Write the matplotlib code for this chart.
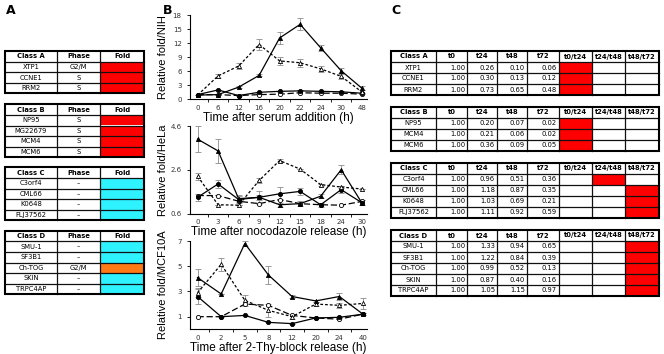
import matplotlib
matplotlib.use("Agg")
import matplotlib.pyplot as plt
from matplotlib.patches import Rectangle

# ---------------- data ----------------
# Panel A
a_classes = ["Class A", "Class B", "Class C", "Class D"]
a_genes = [["XTP1", "CCNE1", "RRM2"],
           ["NP95", "MG22679", "MCM4", "MCM6"],
           ["C3orf4", "CML66", "K0648", "FLJ37562"],
           ["SMU-1", "SF3B1", "Ch-TOG", "SKIN", "TRPC4AP"]]
a_phases = [["G2/M", "S", "S"],
            ["S", "S", "S", "S"],
            ["–", "–", "–", "–"],
            ["–", "–", "G2/M", "–", "–"]]
a_fold = [["up", "up", "up"],
          ["up", "up", "up", "up"],
          ["down", "down", "down", "down"],
          ["down", "down", "g2m", "down", "down"]]

# Panel B
nih_x = ["0", "6", "12", "16", "20", "22", "24", "30", "48"]
nih_tri_solid = [0.9, 1.0, 2.6, 5.1, 13.1, 16.0, 11.0, 6.1, 2.4]
nih_tri_solid_err = [0, 0, 0.2, 0.2, 1.2, 1.3, 0.6, 0.5, 0.4]
nih_tri_dash = [0.9, 5.0, 7.1, 11.7, 8.2, 7.8, 6.5, 4.9, 1.6]
nih_tri_dash_err = [0, 0.4, 0.6, 1.1, 0.8, 0.9, 0.6, 0.6, 0.3]
nih_circ_solid = [1.0, 2.0, 0.8, 1.5, 1.7, 1.8, 1.7, 1.6, 1.3]
nih_circ_solid_err = [0, 0, 0, 0.1, 0.1, 0.1, 0.1, 0.1, 0.1]
nih_circ_dash = [1.0, 1.0, 0.8, 1.0, 1.1, 1.4, 1.3, 1.3, 1.1]

hela_x = ["0", "3", "6", "9", "12", "15", "18", "24", "30"]
hela_tri_solid = [4.0, 3.46, 1.28, 1.34, 1.0, 1.05, 1.39, 2.6, 1.1]
hela_tri_solid_err = [0.6, 0.55, 0.15, 0.1, 0.1, 0.1, 0.1, 0.2, 0.1]
hela_tri_dash = [2.3, 1.0, 0.98, 2.11, 3.02, 2.63, 1.92, 1.81, 1.72]
hela_tri_dash_err = [0.15, 0, 0, 0.1, 0.05, 0, 0.05, 0.05, 0]
hela_circ_solid = [1.34, 1.95, 1.24, 1.34, 1.5, 1.61, 1.0, 1.69, 1.1]
hela_circ_solid_err = [0.15, 0.2, 0.15, 0.3, 0.3, 0.15, 0.1, 0.15, 0.1]
hela_circ_dash = [1.42, 1.42, 1.16, 1.05, 1.24, 1.05, 1.0, 0.98, 1.15]

mcf_x = ["0", "2", "5", "8", "12", "20", "24", "40"]
mcf_tri_solid = [4.1, 2.8, 6.8, 4.3, 2.6, 2.25, 2.6, 1.2]
mcf_tri_solid_err = [0.7, 0, 0.2, 0.7, 0.1, 0.1, 0.3, 0.1]
mcf_tri_dash = [2.9, 5.15, 2.3, 1.5, 1.0, 2.0, 1.9, 2.05]
mcf_tri_dash_err = [0.35, 0.5, 0.45, 0.5, 0.2, 0.15, 0.2, 0.45]
mcf_circ_solid = [2.6, 1.0, 1.1, 0.55, 0.45, 0.9, 0.95, 1.2]
mcf_circ_solid_err = [0.6, 0, 0, 0, 0, 0, 0, 0.1]
mcf_circ_dash = [1.0, 1.0, 2.0, 1.9, 1.1, 0.9, 0.8, 1.2]

# Panel C
c_header = ["t0", "t24", "t48", "t72", "t0/t24", "t24/t48", "t48/t72"]
c_classes = ["Class A", "Class B", "Class C", "Class D"]
c_genes = [["XTP1", "CCNE1", "RRM2"],
           ["NP95", "MCM4", "MCM6"],
           ["C3orf4", "CML66", "K0648", "FLJ37562"],
           ["SMU-1", "SF3B1", "Ch-TOG", "SKIN", "TRPC4AP"]]
c_values = [[[1.00, 0.26, 0.10, 0.06], [1.00, 0.30, 0.13, 0.12], [1.00, 0.73, 0.65, 0.48]],
            [[1.00, 0.20, 0.07, 0.02], [1.00, 0.21, 0.06, 0.02], [1.00, 0.36, 0.09, 0.05]],
            [[1.00, 0.96, 0.51, 0.36], [1.00, 1.18, 0.87, 0.35], [1.00, 1.03, 0.69, 0.21],
             [1.00, 1.11, 0.92, 0.59]],
            [[1.00, 1.33, 0.94, 0.65], [1.00, 1.22, 0.84, 0.39], [1.00, 0.99, 0.52, 0.13],
             [1.00, 0.87, 0.40, 0.16], [1.00, 1.05, 1.15, 0.97]]]
# index of the highlighted ratio column (0: t0/t24, 1: t24/t48, 2: t48/t72)
c_mark = [[0, 0, 0], [0, 0, 0], [1, 2, 2, 2], [2, 2, 2, 2, 2]]

# ---------------- figure ----------------
W, H = 664, 354
fig = plt.figure(figsize=(W / 100, H / 100), dpi=100)
plt.rcParams['font.family'] = ['DejaVu Sans']

ov = fig.add_axes([0, 0, 1, 1])
ov.set_xlim(0, W)
ov.set_ylim(H, 0)
ov.axis('off')

RED = '#ff0000'
CYAN = '#2ef2ff'
ORANGE = '#ff7a14'
fold_col = {"up": RED, "down": CYAN, "g2m": ORANGE}
TFS = 4.9

for lbl, x in [("A", 11), ("B", 168), ("C", 396)]:
    ov.text(x, 10, lbl, fontsize=9, fontweight='bold', ha='center', va='center')


def draw_table(x_edges, top, rh, nrows, fills):
    bottom = top + rh * nrows
    for (r, c), col in fills.items():
        ov.add_patch(Rectangle((x_edges[c], top + rh * r), x_edges[c + 1] - x_edges[c], rh,
                               facecolor=col, edgecolor='none', zorder=1))
    for r in range(1, nrows):
        ov.plot([x_edges[0], x_edges[-1]], [top + rh * r] * 2, color='#111111', lw=0.9, zorder=2)
    for xe in x_edges[1:-1]:
        ov.plot([xe, xe], [top, bottom], color='#111111', lw=0.9, zorder=2)
    ov.add_patch(Rectangle((x_edges[0], top), x_edges[-1] - x_edges[0], bottom - top,
                           facecolor='none', edgecolor='black', lw=1.5, zorder=3))


# Panel A tables
a_edges = [5, 57, 100, 144]
a_tops = [51, 104.3, 167.3, 230.7]
a_rh = 10.6
for k in range(4):
    n = len(a_genes[k]) + 1
    fills = {(i + 1, 2): fold_col[f] for i, f in enumerate(a_fold[k])}
    draw_table(a_edges, a_tops[k], a_rh, n, fills)
    yc = a_tops[k] + a_rh / 2
    ov.text((a_edges[0] + a_edges[1]) / 2, yc, a_classes[k], fontsize=TFS, fontweight='bold', ha='center', va='center')
    ov.text((a_edges[1] + a_edges[2]) / 2, yc, "Phase", fontsize=TFS, fontweight='bold', ha='center', va='center')
    ov.text((a_edges[2] + a_edges[3]) / 2, yc, "Fold", fontsize=TFS, fontweight='bold', ha='center', va='center')
    for i, (g, p) in enumerate(zip(a_genes[k], a_phases[k])):
        y = a_tops[k] + a_rh * (i + 1.5)
        ov.text((a_edges[0] + a_edges[1]) / 2, y, g, fontsize=TFS, ha='center', va='center')
        ov.text((a_edges[1] + a_edges[2]) / 2, y, p, fontsize=TFS, ha='center', va='center')

# Panel C tables
c_edges = [391, 436, 467, 497, 527, 559, 592, 625, 659]
c_tops = [51, 106.7, 162.7, 230]
c_rh = 11.0
for k in range(4):
    n = len(c_genes[k]) + 1
    fills = {(i + 1, 5 + m): RED for i, m in enumerate(c_mark[k])}
    draw_table(c_edges, c_tops[k], c_rh, n, fills)
    yc = c_tops[k] + c_rh / 2
    ov.text((c_edges[0] + c_edges[1]) / 2, yc, c_classes[k], fontsize=TFS, fontweight='bold', ha='center', va='center')
    for j, h in enumerate(c_header):
        ov.text((c_edges[j + 1] + c_edges[j + 2]) / 2, yc, h, fontsize=TFS, fontweight='bold',
                ha='center', va='center')
    for i, g in enumerate(c_genes[k]):
        y = c_tops[k] + c_rh * (i + 1.5)
        ov.text((c_edges[0] + c_edges[1]) / 2, y, g, fontsize=TFS, ha='center', va='center')
        for j, v in enumerate(c_values[k][i]):
            ov.text(c_edges[j + 2] - 2, y, f"{v:.2f}", fontsize=TFS, ha='right', va='center')


# Panel B plots
def px_axes(left, right, top, bottom):
    return fig.add_axes([left / W, 1 - bottom / H, (right - left) / W, (bottom - top) / H])


ERR = '#8a8a8a'


def series(ax, y, err, ls, marker, filled):
    x = list(range(len(y)))
    if err is not None:
        ax.errorbar(x, y, yerr=err, fmt='none', ecolor=ERR, elinewidth=0.6, capsize=2,
                    capthick=0.6, zorder=2)
    ax.plot(x, y, color='black', lw=0.9, ls=ls, marker=marker, ms=3,
            mfc='black' if filled else 'white', mec='black', mew=0.6, zorder=3)


def style(ax, labels, xlabel, ylabel, xr):
    n = len(labels)
    for s in ['top', 'right']:
        ax.spines[s].set_visible(False)
    for s in ['left', 'bottom']:
        ax.spines[s].set_linewidth(0.8)
    ax.set_xticks(range(n))
    ax.set_xticklabels(labels)
    ax.set_xticks([i + 0.5 for i in range(-1, n)], minor=True)
    ax.tick_params(axis='x', which='major', length=0, labelsize=5, pad=4, labelcolor='#333333')
    ax.tick_params(axis='x', which='minor', length=2.5, width=0.6)
    ax.tick_params(axis='y', which='major', length=2.5, width=0.6, labelsize=5, labelcolor='#333333')
    ax.set_xlim(xr)
    ax.set_xlabel(xlabel, fontsize=8.5, family='Liberation Sans', labelpad=1)
    ax.set_ylabel(ylabel, fontsize=8, family='Liberation Sans', labelpad=3)
    ax.patch.set_alpha(0)


ls_dash = (0, (2.2, 1.6))
ls_long = (0, (5, 2.2))

ax1 = px_axes(190, 367, 15, 99.3)
series(ax1, nih_circ_dash, None, ls_long, 'o', False)
series(ax1, nih_circ_solid, nih_circ_solid_err, '-', 'o', True)
series(ax1, nih_tri_dash, nih_tri_dash_err, ls_dash, '^', False)
series(ax1, nih_tri_solid, nih_tri_solid_err, '-', '^', True)
ax1.set_ylim(0, 18)
ax1.set_yticks([0, 3, 6, 9, 12, 15, 18])
style(ax1, nih_x, "Time after serum addition (h)", "Relative fold/NIH", (-0.37, 8.26))

ax2 = px_axes(190, 367, 126, 213.5)
series(ax2, hela_circ_dash, None, ls_long, 'o', False)
series(ax2, hela_circ_solid, hela_circ_solid_err, '-', 'o', True)
series(ax2, hela_tri_dash, hela_tri_dash_err, ls_dash, '^', False)
series(ax2, hela_tri_solid, hela_tri_solid_err, '-', '^', True)
ax2.set_ylim(0.6, 4.6)
ax2.set_yticks([0.6, 2.6, 4.6])
ax2.set_yticklabels(["0.6", "2.6", "4.6"])
style(ax2, hela_x, "Time after nocodazole release (h)", "Relative fold/HeLa", (-0.37, 8.26))

ax3 = px_axes(190, 367, 241, 329.3)
series(ax3, mcf_circ_dash, None, ls_long, 'o', False)
series(ax3, mcf_circ_solid, mcf_circ_solid_err, '-', 'o', True)
series(ax3, mcf_tri_dash, mcf_tri_dash_err, ls_dash, '^', False)
series(ax3, mcf_tri_solid, mcf_tri_solid_err, '-', '^', True)
ax3.set_ylim(0, 7)
ax3.set_yticks([1, 3, 5, 7])
style(ax3, mcf_x, "Time after 2-Thy-block release (h)", "Relative fold/MCF10A", (-0.32, 7.17))

for ax in (ax1, ax2, ax3):
    ax.yaxis.set_label_coords(-0.125, 0.5)

fig.savefig("out.png", dpi=100)
